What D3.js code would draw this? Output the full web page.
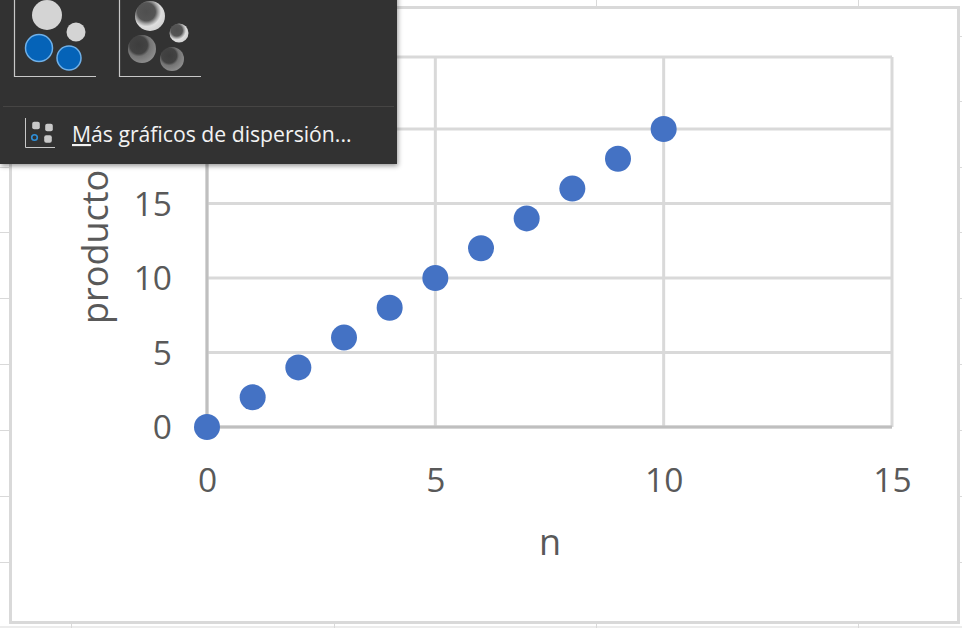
<!DOCTYPE html>
<html>
<head>
<meta charset="utf-8">
<script src="https://cdn.jsdelivr.net/npm/d3@7/dist/d3.min.js"></script>
<style>
html,body{margin:0;padding:0;background:#fff;overflow:hidden}
svg{display:block}
text{font-family:"Open Sans",sans-serif}
</style>
</head>
<body>
<svg id="c" width="962" height="628"></svg>
<script>
// Series
const nValues = [0,1,2,3,4,5,6,7,8,9,10];
const productoValues = [0,2,4,6,8,10,12,14,16,18,20];
// Axes
const xTicks = [0,5,10,15];
const yTicks = [0,5,10,15,20,25];
const yLabelTicks = [0,5,10,15]; // 20 and 25 sit behind the open dropdown
const xTitle = "n";
const yTitle = "producto";
const menuLabel = "Más gráficos de dispersión...";
// Worksheet cell borders that show around the chart object
const sheetCols = [71,334,596,858];
const sheetRows = [36,101,167,232,298,364,430,496,562];
// Bubble thumbnails in the dropdown: cx, cy, r
const flatBubbles = [[47,15,15,"#d4d4d4"],[76,32,9.5,"#d4d4d4"],[39,48,13.5,"#0563b8"],[69,58,12,"#0563b8"]];
const shadedBubbles = [[150,16,15],[179,33,9.5],[142,49,14],[172,59,12]];

const svg = d3.select("#c");
const W = 962, H = 628;

const x = d3.scaleLinear().domain([0,15]).range([207,892]);
const y = d3.scaleLinear().domain([0,20,25]).range([427,129,57]);

// Worksheet background
const sheet = svg.append("g").attr("stroke","#d9d9d9").attr("stroke-width",1);
sheet.selectAll("line.r").data(sheetRows).join("line")
  .attr("x1",0).attr("x2",W).attr("y1",d=>d+.5).attr("y2",d=>d+.5);
sheet.selectAll("line.c").data(sheetCols).join("line")
  .attr("y1",0).attr("y2",H).attr("x1",d=>d+.5).attr("x2",d=>d+.5);
svg.append("line").attr("x1",0).attr("x2",W).attr("y1",627).attr("y2",627)
  .attr("stroke","#d9d9d9");

// Chart object frame
svg.append("rect").attr("x",10.5).attr("y",7.5).attr("width",948).attr("height",615)
  .attr("fill","#fff").attr("stroke","#d9d9d9").attr("stroke-width",3);

// Gridlines
const grid = svg.append("g").attr("stroke","#d9d9d9").attr("stroke-width",3);
grid.selectAll("line.gx").data(xTicks).join("line")
  .attr("x1",d=>x(d)).attr("x2",d=>x(d)).attr("y1",y(25)).attr("y2",y(0));
grid.selectAll("line.gy").data(yTicks).join("line")
  .attr("y1",d=>y(d)).attr("y2",d=>y(d)).attr("x1",x(0)).attr("x2",x(15));

// Axis lines sit slightly darker than the grid
svg.append("line").attr("x1",x(0)).attr("x2",x(15)).attr("y1",y(0)).attr("y2",y(0))
  .attr("stroke","#bfbfbf").attr("stroke-width",3);
svg.append("line").attr("x1",x(0)).attr("x2",x(0)).attr("y1",y(25)).attr("y2",y(0))
  .attr("stroke","#bfbfbf").attr("stroke-width",3);

// Tick labels
const labelColor = "#595959";
const axisBottom = d3.axisBottom(x).tickValues(xTicks).tickSize(0).tickPadding(41);
const gx = svg.append("g").attr("transform",`translate(0,${y(0)})`).call(axisBottom);
gx.select(".domain").remove();
gx.selectAll("text").attr("fill",labelColor).style("font-size","33.5px");

const axisLeft = d3.axisLeft(y).tickValues(yLabelTicks).tickSize(0).tickPadding(35);
const gy = svg.append("g").attr("transform",`translate(${x(0)},1)`).call(axisLeft);
gy.select(".domain").remove();
gy.selectAll("text").attr("fill",labelColor).style("font-size","33.5px");

// Axis titles
svg.append("text").attr("x",550).attr("y",555).attr("text-anchor","middle")
  .attr("fill",labelColor).style("font-size","36px").text(xTitle);
svg.append("text").attr("transform","translate(108,324) rotate(-90)")
  .attr("fill",labelColor).style("font-size","36px").text(yTitle);

// Scatter points
svg.selectAll("circle.pt").data(nValues).join("circle")
  .attr("class","pt")
  .attr("cx",d=>x(d))
  .attr("cy",(d,i)=>y(productoValues[i]))
  .attr("r",13)
  .attr("fill","#4472c4");

// Dropdown menu panel
const defs = svg.append("defs");
const sh = defs.append("filter").attr("id","menuShadow")
  .attr("x","-5%").attr("y","-5%").attr("width","110%").attr("height","115%");
sh.append("feDropShadow").attr("dx",1).attr("dy",2).attr("stdDeviation",2.5)
  .attr("flood-color","#000").attr("flood-opacity",.4);

const menu = svg.append("g");
menu.append("rect").attr("x",0).attr("y",-10).attr("width",397).attr("height",174)
  .attr("fill","#323130").attr("filter","url(#menuShadow)");
menu.append("line").attr("x1",3).attr("x2",394).attr("y1",106.5).attr("y2",106.5)
  .attr("stroke","#464544");

// Thumbnail frames
const frame = "#c8c8c8";
[[14,96],[119,201]].forEach(([a,b])=>{
  menu.append("path").attr("d",`M${a+.5},0V76.5H${b}`)
    .attr("fill","none").attr("stroke",frame).attr("stroke-width",1.2);
});

// Flat bubbles
flatBubbles.forEach(([cx,cy,r,c])=>{
  const blue = c !== "#d4d4d4";
  menu.append("circle").attr("cx",cx).attr("cy",cy).attr("r",r).attr("fill",c)
    .attr("stroke",blue ? "#6fb0e8" : "none").attr("stroke-width",blue ? 1.5 : 0);
});

// Shaded bubbles: light pair on top, dark pair below
const shade = (id,stops)=>{
  const g = defs.append("radialGradient").attr("id",id)
    .attr("cx","38%").attr("cy","36%").attr("r","68%");
  stops.forEach(([o,c])=>g.append("stop").attr("offset",o).attr("stop-color",c));
};
shade("lightB",[["0%","#4f4f4f"],["44%","#555555"],["58%","#a0a0a0"],["72%","#dedede"],["100%","#d2d2d2"]]);
shade("darkB",[["0%","#3d3d3d"],["46%","#434343"],["60%","#747474"],["100%","#8e8e8e"]]);
shadedBubbles.forEach(([cx,cy,r],i)=>{
  menu.append("circle").attr("cx",cx).attr("cy",cy).attr("r",r)
    .attr("fill",`url(#${i<2?"lightB":"darkB"})`);
});

// "More" icon
menu.append("path").attr("d","M25.5,118V147.5H55").attr("fill","none")
  .attr("stroke","#c8c8c8").attr("stroke-width",1);
[[36,125.5],[49,127.5],[48,139]].forEach(([cx,cy])=>{
  menu.append("rect").attr("x",cx-3.8).attr("y",cy-3.8).attr("width",7.6).attr("height",7.6)
    .attr("rx",2).attr("fill","#c9c9c9");
});
menu.append("circle").attr("cx",34.5).attr("cy",137.5).attr("r",2.8)
  .attr("fill","none").attr("stroke","#2f8fd8").attr("stroke-width",1.6);

// Menu entry with underlined access key
const label = menu.append("text").attr("x",72).attr("y",142)
  .attr("fill","#f2f2f2")
  .style("font-family","'Open Sans',sans-serif").style("font-size","21.2px");
label.append("tspan").attr("text-decoration","underline").text(menuLabel[0]);
label.append("tspan").text(menuLabel.slice(1));
</script>
</body>
</html>
